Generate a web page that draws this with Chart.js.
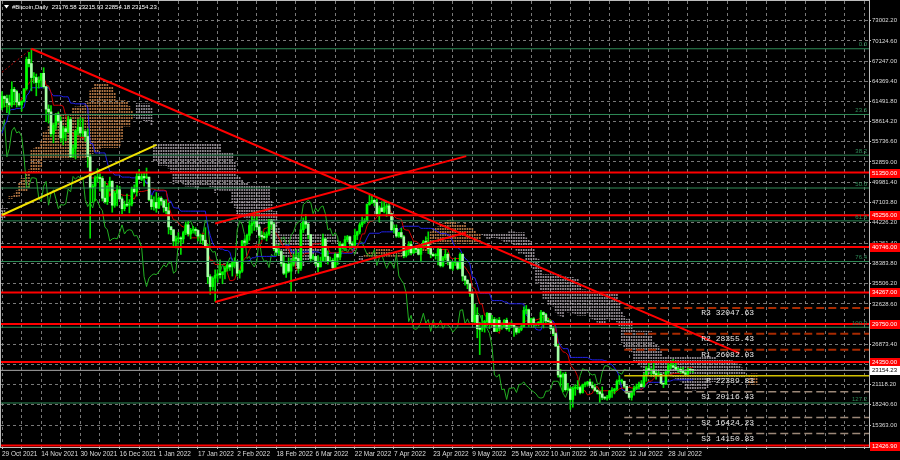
<!DOCTYPE html>
<html>
<head>
<meta charset="utf-8">
<script src="https://cdn.jsdelivr.net/npm/chart.js@4.4.0/dist/chart.umd.min.js"></script>
<style>
  html, body { margin: 0; padding: 0; background: #000; }
  #chart { display: block; background: #000; }
</style>
</head>
<body>
<canvas id="chart" width="900" height="460"></canvas>
<script>
const K = 1000

// daily bars 29 Oct 2021 .. 7 Aug 2022, prices in thousands
const opens = [
    60.6, 62.2, 61.9,
    61.3, 61.0, 63.2, 62.9, 61.4, 61.0, 61.5, 63.3, 67.5, 66.9, 64.9, 64.9, 64.2, 64.5, 65.5, 63.6, 60.4, 60.0, 56.9, 58.1, 59.7, 58.7, 56.3, 57.6, 57.2, 58.9, 53.6, 54.8, 57.3, 57.8,
    57.0, 57.2, 56.5, 53.6, 49.2, 49.4, 50.6, 50.6, 50.5, 47.7, 47.2, 49.4, 50.1, 46.7, 48.4, 48.9, 47.6, 46.2, 46.8, 46.7, 46.9, 49.0, 48.6, 50.8, 50.4, 50.8, 50.6, 50.7, 47.5, 46.5, 47.1,
    46.3, 47.7, 47.3, 46.4, 45.9, 43.6, 43.2, 41.6, 41.9, 42.0, 41.9, 42.8, 43.9, 42.6, 43.1, 43.2, 43.1, 42.3, 42.4, 41.7, 40.7, 36.5, 35.1, 36.3, 36.7, 36.9, 36.8, 37.2, 37.7, 38.2, 37.9,
    38.5, 38.7, 37.0, 37.3, 41.6, 41.4, 42.4, 43.8, 44.1, 44.4, 43.6, 42.4, 42.2, 42.1, 42.6, 44.6, 44.0, 40.5, 40.0, 40.1, 38.4, 37.0, 38.3, 37.3, 38.3, 39.2, 39.1, 37.7,
    43.2, 44.4, 44.0, 42.5, 39.1, 39.4, 38.4, 37.9, 38.7, 41.9, 39.4, 38.7, 38.8, 37.8, 39.7, 39.3, 41.1, 40.9, 41.8, 42.2, 41.2, 41.0, 42.4, 42.9, 43.9, 44.3, 44.5, 46.8, 47.1, 47.4, 47.1,
    45.5, 46.3, 45.8, 46.4, 46.6, 45.5, 43.2, 43.4, 42.3, 42.8, 42.2, 39.5, 40.1, 41.1, 39.9, 40.6, 40.4, 39.7, 40.8, 41.5, 41.4, 40.5, 39.7, 39.5, 39.5, 40.4, 38.1, 39.2, 39.7, 38.6,
    37.7, 38.5, 38.5, 37.7, 39.7, 36.6, 36.0, 35.5, 34.1, 30.1, 31.0, 29.1, 29.0, 29.3, 30.1, 31.3, 29.9, 30.4, 28.7, 30.3, 29.2, 29.4, 30.3, 29.1, 29.7, 29.6, 29.3, 28.6, 29.0, 29.4, 31.7,
    31.8, 29.8, 30.5, 29.7, 29.9, 29.9, 31.4, 31.1, 30.2, 30.1, 29.1, 28.4, 26.6, 22.5, 22.2, 22.6, 20.4, 20.5, 19.0, 20.6, 20.6, 20.7, 20.0, 21.1, 21.2, 21.5, 21.0, 20.7, 20.3, 20.1,
    19.8, 19.3, 19.2, 19.3, 20.2, 20.2, 20.5, 21.6, 21.6, 21.6, 20.9, 19.9, 19.3, 20.2, 20.6, 20.8, 21.2, 20.8, 22.4, 23.4, 23.2, 23.2, 22.7, 22.5, 22.6, 21.3, 21.2, 22.9, 23.8, 23.8, 23.6,
    23.3, 23.3, 23.0, 22.8, 22.6, 23.3, 23.17658
]
const highs = [
    62.9, 62.3, 62.4,
    62.4, 64.3, 63.5, 63.1, 62.6, 61.6, 63.3, 67.8, 68.5, 69.0, 65.6, 65.4, 65.0, 65.5, 66.3, 63.6, 61.0, 60.9, 58.4, 59.8, 60.0, 59.3, 58.0, 57.8, 59.4, 59.2, 55.3, 57.4, 58.9, 59.2,
    59.0, 57.4, 57.6, 53.9, 49.7, 50.9, 51.9, 51.2, 50.8, 50.1, 49.5, 50.7, 50.2, 48.7, 49.5, 49.4, 47.9, 47.3, 48.3, 47.5, 49.3, 49.6, 51.4, 51.8, 51.2, 51.3, 52.0, 50.7, 48.1, 47.9, 48.5,
    47.9, 47.9, 47.5, 47.5, 47.0, 43.7, 43.2, 42.3, 42.8, 42.2, 43.0, 44.3, 44.4, 43.4, 43.7, 43.5, 43.2, 42.6, 42.5, 43.5, 41.1, 36.8, 36.5, 37.5, 37.5, 38.9, 37.2, 38.0, 38.7, 38.4, 38.7,
    39.2, 38.8, 37.4, 41.7, 41.9, 42.6, 44.5, 45.4, 44.8, 45.8, 43.9, 43.0, 42.8, 42.9, 44.7, 44.6, 44.2, 40.9, 40.5, 40.2, 39.5, 38.4, 39.2, 38.9, 39.7, 40.3, 39.9, 44.1,
    44.9, 45.4, 44.1, 42.5, 39.7, 39.4, 39.5, 39.3, 42.6, 42.0, 40.2, 39.3, 39.1, 39.9, 39.8, 41.5, 41.3, 42.3, 42.4, 42.3, 41.5, 43.3, 43.0, 44.2, 45.0, 44.8, 46.9, 48.2, 48.1, 47.6, 47.6,
    46.6, 47.2, 47.4, 46.9, 47.1, 45.5, 43.9, 43.9, 42.8, 43.4, 42.4, 40.7, 41.5, 41.5, 40.8, 40.7, 40.6, 41.0, 41.7, 42.2, 42.9, 40.8, 39.9, 39.8, 40.6, 40.8, 39.4, 40.4, 39.9, 38.8,
    38.7, 39.2, 38.6, 39.9, 39.8, 36.6, 36.1, 35.5, 34.3, 32.6, 32.1, 30.0, 31.0, 30.3, 31.4, 31.3, 31.0, 30.7, 30.5, 30.7, 29.6, 30.4, 30.6, 29.8, 30.2, 29.8, 29.4, 29.2, 29.6, 32.2, 32.4,
    31.9, 30.6, 30.7, 29.9, 30.1, 31.7, 31.5, 31.3, 30.6, 30.3, 29.4, 28.5, 26.9, 23.3, 22.8, 22.9, 21.3, 20.8, 20.8, 21.0, 21.7, 20.9, 21.2, 21.5, 21.6, 21.9, 21.5, 21.2, 20.4, 20.2,
    20.8, 19.4, 19.6, 20.3, 20.7, 20.6, 21.8, 22.4, 21.9, 21.6, 20.9, 20.0, 20.2, 20.9, 21.2, 21.5, 21.7, 22.7, 23.7, 24.3, 23.4, 24.2, 23.0, 23.0, 22.7, 21.3, 23.1, 24.2, 24.4, 24.7, 24.2,
    23.5, 23.5, 23.6, 23.2, 23.5, 23.4, 23.21593
]
const lows = [
    60.3, 60.7, 59.9,
    59.6, 60.7, 61.0, 60.7, 60.8, 60.1, 61.4, 63.1, 66.4, 63.0, 64.1, 62.3, 63.4, 63.6, 63.4, 58.6, 58.4, 56.5, 55.6, 57.5, 58.5, 55.7, 55.3, 55.9, 57.0, 53.5, 53.6, 53.3, 56.7, 56.5,
    56.5, 55.8, 52.1, 42.0, 47.1, 47.3, 50.0, 48.7, 47.3, 47.0, 46.8, 48.7, 45.7, 46.4, 46.6, 47.6, 45.5, 45.9, 46.5, 45.6, 46.6, 48.4, 48.0, 50.4, 50.2, 49.4, 50.5, 47.3, 46.1, 46.0, 45.7,
    46.2, 46.7, 45.7, 45.5, 42.6, 42.5, 40.7, 40.6, 41.3, 39.7, 41.3, 42.5, 42.3, 41.9, 42.7, 42.6, 41.6, 41.3, 41.1, 40.6, 35.5, 34.0, 34.6, 33.0, 35.7, 36.3, 35.5, 36.2, 37.3, 37.4, 36.6,
    38.0, 36.6, 36.3, 37.1, 40.9, 41.1, 41.7, 42.7, 43.1, 43.2, 42.0, 41.8, 41.9, 41.6, 42.4, 43.3, 40.2, 39.5, 39.6, 38.0, 36.8, 36.4, 37.1, 34.3, 38.0, 38.6, 37.0, 37.4,
    42.8, 43.4, 41.9, 38.6, 38.9, 38.1, 37.2, 37.9, 38.7, 38.6, 38.3, 38.7, 37.6, 37.6, 38.2, 38.9, 40.5, 40.2, 41.5, 40.9, 40.6, 40.9, 41.8, 42.6, 43.6, 44.1, 44.4, 46.7, 46.9, 46.6, 45.2,
    44.3, 45.8, 45.6, 45.1, 45.4, 43.1, 42.7, 42.1, 42.1, 42.0, 39.2, 39.3, 39.6, 39.6, 39.8, 40.0, 39.6, 38.6, 40.6, 40.9, 39.8, 39.2, 39.4, 39.0, 38.2, 37.9, 37.9, 38.9, 38.2, 37.6,
    37.4, 38.1, 37.5, 37.6, 35.9, 35.3, 34.8, 33.7, 30.0, 29.8, 27.8, 25.4, 28.7, 28.6, 29.5, 29.1, 29.5, 28.7, 28.7, 28.8, 29.0, 29.2, 28.9, 28.7, 29.3, 28.0, 28.3, 28.5, 28.8, 29.3, 31.2,
    29.4, 29.6, 29.3, 29.5, 29.5, 29.9, 29.2, 29.9, 30.0, 28.9, 28.1, 26.6, 22.2, 20.9, 20.1, 20.2, 20.3, 17.6, 17.9, 19.6, 20.4, 19.8, 19.9, 20.8, 20.9, 21.0, 20.5, 20.2, 19.8, 18.6,
    19.0, 19.0, 18.9, 19.1, 19.3, 19.8, 20.3, 21.2, 21.3, 20.7, 19.9, 19.2, 18.9, 19.6, 20.4, 20.5, 20.8, 20.8, 21.6, 23.0, 22.3, 22.5, 21.9, 22.3, 21.3, 20.7, 21.1, 22.6, 23.4, 23.5, 23.2,
    22.9, 22.7, 22.7, 22.4, 22.6, 22.9, 22.85418
]
const closes = [
    62.2, 61.9, 61.3,
    61.0, 63.2, 62.9, 61.4, 61.0, 61.5, 63.3, 67.5, 66.9, 64.9, 64.9, 64.2, 64.5, 65.5, 63.6, 60.4, 60.0, 56.9, 58.1, 59.7, 58.7, 56.3, 57.6, 57.2, 58.9, 53.6, 54.8, 57.3, 57.8, 57.0,
    57.2, 56.5, 53.6, 49.2, 49.4, 50.6, 50.6, 50.5, 47.7, 47.2, 49.4, 50.1, 46.7, 48.4, 48.9, 47.6, 46.2, 46.8, 46.7, 46.9, 49.0, 48.6, 50.8, 50.4, 50.8, 50.6, 50.7, 47.5, 46.5, 47.1, 46.3,
    47.7, 47.3, 46.4, 45.9, 43.6, 43.2, 41.6, 41.9, 42.0, 41.9, 42.8, 43.9, 42.6, 43.1, 43.2, 43.1, 42.3, 42.4, 41.7, 40.7, 36.5, 35.1, 36.3, 36.7, 36.9, 36.8, 37.2, 37.7, 38.2, 37.9, 38.5,
    38.7, 37.0, 37.3, 41.6, 41.4, 42.4, 43.8, 44.1, 44.4, 43.6, 42.4, 42.2, 42.1, 42.6, 44.6, 44.0, 40.5, 40.0, 40.1, 38.4, 37.0, 38.3, 37.3, 38.3, 39.2, 39.1, 37.7, 43.2,
    44.4, 44.0, 42.5, 39.1, 39.4, 38.4, 37.9, 38.7, 41.9, 39.4, 38.7, 38.8, 37.8, 39.7, 39.3, 41.1, 40.9, 41.8, 42.2, 41.2, 41.0, 42.4, 42.9, 43.9, 44.3, 44.5, 46.8, 47.1, 47.4, 47.1, 45.5,
    46.3, 45.8, 46.4, 46.6, 45.5, 43.2, 43.4, 42.3, 42.8, 42.2, 39.5, 40.1, 41.1, 39.9, 40.6, 40.4, 39.7, 40.8, 41.5, 41.4, 40.5, 39.7, 39.5, 39.5, 40.4, 38.1, 39.2, 39.7, 38.6, 37.7,
    38.5, 38.5, 37.7, 39.7, 36.6, 36.0, 35.5, 34.1, 30.1, 31.0, 29.1, 29.0, 29.3, 30.1, 31.3, 29.9, 30.4, 28.7, 30.3, 29.2, 29.4, 30.3, 29.1, 29.7, 29.6, 29.3, 28.6, 29.0, 29.4, 31.7, 31.8,
    29.8, 30.5, 29.7, 29.9, 29.9, 31.4, 31.1, 30.2, 30.1, 29.1, 28.4, 26.6, 22.5, 22.2, 22.6, 20.4, 20.5, 19.0, 20.6, 20.6, 20.7, 20.0, 21.1, 21.2, 21.5, 21.0, 20.7, 20.3, 20.1, 19.8,
    19.3, 19.2, 19.3, 20.2, 20.2, 20.5, 21.6, 21.6, 21.6, 20.9, 19.9, 19.3, 20.2, 20.6, 20.8, 21.2, 20.8, 22.4, 23.4, 23.2, 23.2, 22.7, 22.5, 22.6, 21.3, 21.2, 22.9, 23.8, 23.8, 23.6, 23.3,
    23.3, 23.0, 22.8, 22.6, 23.3, 23.18, 23.15423
]

// 13 Aug .. 28 Oct 2021, off screen, only used as Ichimoku lookback
const preHighs = [
    48.1, 47.9, 47.4, 48.0, 47.1, 46.0, 47.0, 49.3, 49.8, 49.5, 50.5, 49.9, 49.2, 49.0, 49.2, 49.3, 49.6, 49.0, 48.2,
    49.0, 50.3, 51.0, 50.5, 51.9, 52.9, 52.8, 47.3, 47.3, 47.1, 45.9, 46.4, 46.8, 47.3, 48.5, 48.5, 48.2, 48.8, 48.4, 47.3, 43.6, 44.0, 45.0, 45.0, 42.9, 43.9, 44.3, 42.8, 42.6, 44.1,
    48.4, 48.3, 49.2, 49.5, 51.9, 55.7, 55.3, 56.1, 55.4, 56.4, 57.8, 57.6, 57.7, 58.5, 62.8, 62.3, 61.7, 62.6, 64.4, 67.0, 66.6, 63.7, 61.7, 61.5, 63.7, 63.3, 61.5, 62.4
]
const preLows = [
    44.2, 45.9, 45.5, 45.7, 44.4, 44.2, 43.9, 46.6, 48.3, 48.0, 49.0, 47.6, 47.1, 46.3, 46.4, 48.4, 48.4, 46.9, 46.7,
    46.5, 48.6, 48.8, 49.5, 49.5, 50.9, 43.0, 44.5, 45.6, 44.2, 44.8, 44.8, 43.4, 44.7, 46.7, 47.1, 46.8, 47.1, 46.9, 42.5, 39.6, 40.6, 43.1, 40.9, 41.7, 40.8, 42.1, 40.9, 40.8, 41.4,
    43.3, 47.4, 47.1, 46.9, 49.1, 50.4, 53.4, 53.7, 53.7, 54.1, 54.4, 54.0, 54.3, 56.8, 56.9, 60.2, 58.9, 60.1, 61.4, 63.5, 62.0, 60.0, 59.7, 59.6, 60.7, 60.1, 58.1, 57.9
]

const dateLabels = ['29 Oct 2021', '14 Nov 2021', '30 Nov 2021', '16 Dec 2021', '1 Jan 2022', '17 Jan 2022',
    '2 Feb 2022', '18 Feb 2022', '6 Mar 2022', '22 Mar 2022', '7 Apr 2022', '23 Apr 2022', '9 May 2022',
    '25 May 2022', '10 Jun 2022', '26 Jun 2022', '12 Jul 2022', '28 Jul 2022']
const priceTicks = [73002.20, 70124.60, 67247.00, 64369.40, 61491.80, 58614.20, 55736.60, 52859.00, 49981.40,
    47103.80, 44226.20, 41261.40, 38383.80, 35506.20, 32628.60, 29751.00, 26873.40, 23995.80, 21118.20, 18240.60, 15363.00]
const redLevels = [51350.00, 45256.00, 40746.00, 34267.00, 29750.00, 24350.00, 12426.90]
const fibLevels = [0, 23.6, 38.2, 50, 61.8, 76.4, 100, 127.2]
const fibHigh = [12, 69000]
const fibLow = [-130, 29300]
const pivotNames = ['R3', 'R2', 'R1', 'P', 'S1', 'S2', 'S3']
const pivotValues = [32047.63, 28355.43, 26082.03, 22389.83, 20116.43, 16424.23, 14150.83]
const pivotFromBar = 254
const pivotLabelBar = 307
const downTrend = [[12, 69000], [301, 25600]]
const channelTop = [[87, 44100], [189.5, 53700]]
const channelBottom = [[87, 32900], [189.5, 42800]]
const yellowTrend = [[0, 45300], [63, 55300]]

const FONT = 'Liberation Sans'
const last = closes.length - 1

// ---- Ichimoku (9, 26, 52) from the bars above ----
const allHighs = preHighs.concat(highs)
const allLows = preLows.concat(lows)
const pre = preHighs.length

function midRange(g, len) {
    let hi = -Infinity, lo = Infinity
    for (let k = g - len + 1; k <= g; k++) {
        hi = Math.max(hi, allHighs[k])
        lo = Math.min(lo, allLows[k])
    }
    return (hi + lo) / 2 * K
}

const tenkan = closes.map((c, i) => ({x: i, y: midRange(i + pre, 9)}))
const kijun = closes.map((c, i) => ({x: i, y: midRange(i + pre, 26)}))
const chikou = closes.map((c, i) => ({x: i - 26, y: c * K}))
const cloud = []
for (let j = 0; j <= last + 26; j++) {
    const g = j + pre - 26
    const a = (midRange(g, 9) + midRange(g, 26)) / 2
    const b = midRange(g, 52)
    cloud.push({x: j, y: [Math.min(a, b), Math.max(a, b)], up: a >= b})
}

const wicks = closes.map((c, i) => ({x: i, y: [lows[i] * K, highs[i] * K], up: c >= opens[i]}))
const bodies = closes.map((c, i) => ({x: i, y: [opens[i] * K, c * K], up: c >= opens[i]}))

// MT4 draws the cloud as dotted vertical strokes
function dots(color) {
    const c = document.createElement('canvas')
    c.width = 1
    c.height = 3
    const g = c.getContext('2d')
    g.fillStyle = color
    g.fillRect(0, 0, 1, 2)
    return g.createPattern(c, 'repeat')
}
const dotsOrange = dots('rgba(214,140,80,0.8)')
const dotsGrey = dots('rgba(190,180,190,0.75)')

function segment(points, color, width, dash, order) {
    return {
        type: 'line', data: points.map(p => ({x: p[0], y: p[1]})),
        borderColor: color, borderWidth: width, borderDash: dash || [],
        pointRadius: 0, fill: false, tension: 0, order
    }
}
function level(value, fromBar, color, width, dash, order) {
    return segment([[fromBar, value], [400, value]], color, width, dash, order)
}
const fibPrice = l => fibHigh[1] - (fibHigh[1] - fibLow[1]) * l / 100

const datasets = [
    {type: 'bar', data: cloud, backgroundColor: c => c.raw && c.raw.up ? dotsOrange : dotsGrey,
        barThickness: 1, grouped: false, borderWidth: 0, order: 100},
    {type: 'line', data: chikou, borderColor: '#22b022', borderWidth: 1, pointRadius: 0, tension: 0, order: 90},
    {type: 'line', data: kijun, borderColor: '#2020e8', borderWidth: 1, pointRadius: 0, tension: 0, order: 85},
    {type: 'line', data: tenkan, borderColor: '#d00000', borderWidth: 1, pointRadius: 0, tension: 0, order: 84},
    {type: 'bar', data: wicks, backgroundColor: '#00e000', barThickness: 1, grouped: false, borderWidth: 0, order: 80},
    {type: 'bar', data: bodies, backgroundColor: c => c.raw && c.raw.up ? '#00ff00' : '#a6ffa6',
        barThickness: 2, minBarLength: 1, grouped: false, borderWidth: 0, order: 79},
    segment([fibLow, fibHigh], '#b00000', 1, [2, 2], 59),
    level(closes[last] * K, -10, '#a8a8a8', 1, null, 55)
]
fibLevels.forEach(l => datasets.push(level(fibPrice(l), -10, '#2e8b57', 1, null, 60)))
pivotNames.forEach((n, k) => {
    const color = n === 'P' ? '#d2c000' : (n[0] === 'R' ? '#a82a00' : '#9c8878')
    datasets.push(level(pivotValues[k], pivotFromBar, color, n[0] === 'R' ? 2 : 1.5, n === 'P' ? null : [8, 4], 50))
})
redLevels.forEach(v => datasets.push(level(v, -10, '#ff0000', 2, null, 40)))
datasets.push(segment(downTrend, '#ff0000', 2, null, 30))
datasets.push(segment(channelTop, '#ff0000', 2, null, 30))
datasets.push(segment(channelBottom, '#ff0000', 2, null, 30))
datasets.push(segment(yellowTrend, '#f2e200', 2, null, 30))

const overlay = {
    id: 'overlay',
    afterDatasetsDraw(chart) {
        const {ctx, chartArea, scales: {x, y}} = chart
        ctx.save()
        ctx.font = `6px "${FONT}"`
        ctx.fillStyle = '#2e8b57'
        ctx.textAlign = 'right'
        ctx.textBaseline = 'bottom'
        fibLevels.forEach(l => ctx.fillText(l.toFixed(1), chartArea.right - 2, y.getPixelForValue(fibPrice(l)) - 1))
        ctx.font = '8px "Liberation Mono"'
        ctx.fillStyle = '#e6e6e6'
        ctx.textBaseline = 'top'
        pivotNames.forEach((n, k) => ctx.fillText(`${n} ${pivotValues[k].toFixed(2)}`,
            x.getPixelForValue(pivotLabelBar), y.getPixelForValue(pivotValues[k]) + 1))
        ctx.restore()
    },
    afterDraw(chart) {
        const {ctx, chartArea, scales: {y}} = chart
        ctx.save()
        ctx.strokeStyle = '#bdbdbd'
        ctx.lineWidth = 1
        ctx.strokeRect(chartArea.left - 0.5, chartArea.top - 0.5, chartArea.width + 1, chartArea.height + 1)

        ctx.font = `6px "${FONT}"`
        ctx.textAlign = 'left'
        ctx.textBaseline = 'middle'
        const tag = (value, bg, fg) => {
            const py = Math.round(y.getPixelForValue(value))
            ctx.fillStyle = bg
            ctx.fillRect(chartArea.right + 1, py - 4, 31, 9)
            ctx.fillStyle = fg
            ctx.fillText(value.toFixed(2), chartArea.right + 3, py + 0.5)
        }
        redLevels.forEach(v => tag(v, '#ff0000', '#ffffff'))
        tag(closes[last] * K, '#ffffff', '#000000')

        // title line
        ctx.fillStyle = '#ffffff'
        ctx.beginPath()
        ctx.moveTo(4, 5)
        ctx.lineTo(9, 5)
        ctx.lineTo(6.5, 8.5)
        ctx.closePath()
        ctx.fill()
        const ohlc = [opens[last], highs[last], lows[last], closes[last]].map(v => (v * K).toFixed(2)).join(' ')
        ctx.fillText(`#Bitcoin,Daily  ${ohlc}`, 12, 7)
        ctx.restore()
    }
}

new Chart('chart', {
    type: 'line',
    data: {datasets},
    options: {
        responsive: false,
        animation: false,
        devicePixelRatio: 1,
        events: [],
        layout: {padding: {left: 1, top: 1, right: 0, bottom: 0}},
        plugins: {legend: {display: false}, tooltip: {enabled: false}},
        scales: {
            x: {
                type: 'linear', min: -0.41, max: 353.9, offset: false,
                afterBuildTicks: s => {
                    s.ticks = []
                    for (let v = 0; v <= 352; v += 8) s.ticks.push({value: v})
                },
                afterFit: s => { s.height = 13; s.paddingLeft = 0; s.paddingRight = 0 },
                grid: {color: 'rgba(150,150,150,0.8)', tickColor: '#c8c8c8', tickLength: 2, offset: false},
                border: {display: false, dash: [3, 3]},
                ticks: {
                    autoSkip: false, maxRotation: 0, minRotation: 0, align: 'start', padding: 1,
                    color: '#dcdcdc', font: {family: FONT, size: 6.5},
                    callback: v => (v % 16 === 0 && dateLabels[v / 16]) || ''
                }
            },
            y: {
                type: 'linear', position: 'right', min: 12228, max: 75811,
                afterBuildTicks: s => { s.ticks = priceTicks.map(v => ({value: v})) },
                afterFit: s => { s.width = 31; s.paddingTop = 0; s.paddingBottom = 0 },
                grid: {color: 'rgba(150,150,150,0.8)', tickColor: '#c8c8c8', tickLength: 2},
                border: {display: false, dash: [3, 3]},
                ticks: {padding: 1, color: '#dcdcdc', font: {family: FONT, size: 6}, callback: v => v.toFixed(2)}
            }
        }
    },
    plugins: [overlay]
})
</script>
</body>
</html>
